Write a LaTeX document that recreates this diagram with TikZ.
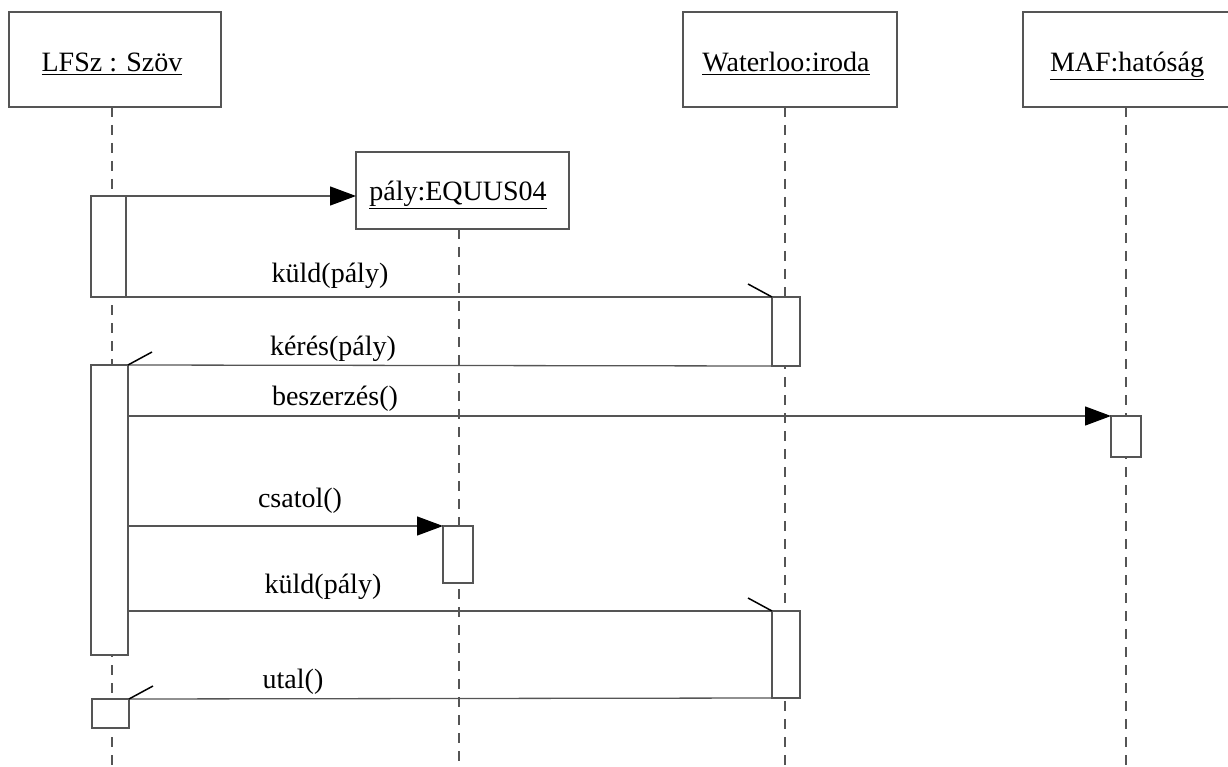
\documentclass[tikz,border=0pt]{standalone}
\usepackage{fontspec}
\setmainfont{Liberation Serif}
\usetikzlibrary{arrows.meta}
\definecolor{linegray}{RGB}{85,85,85}
\begin{document}
\begin{tikzpicture}[x=1pt,y=-1pt,
  box/.style={draw=linegray, fill=white, line width=1.3pt, inner sep=0pt, outer sep=0pt, anchor=north west},
  life/.style={draw=linegray, line width=1.2pt, dash pattern=on 10pt off 8pt},
  msg/.style={draw=linegray, line width=1.3pt},
  call/.style={msg, -{Triangle[length=26pt,width=19pt,color=black]}},
  barb/.style={draw=black, line width=1.5pt},
  lbl/.style={anchor=base, inner sep=0pt, font=\fontsize{28}{32}\selectfont},
]
\useasboundingbox (0,0) rectangle (1228,767);
\clip (0,0) rectangle (1228,767);

% lifelines
\coordinate (l1t) at (112,107); \coordinate (l1b) at (112,767);
\coordinate (l2t) at (459,229); \coordinate (l2b) at (459,767);
\coordinate (l3t) at (785,107); \coordinate (l3b) at (785,767);
\coordinate (l4t) at (1126,107); \coordinate (l4b) at (1126,767);
\draw[life] (l1t) -- (l1b);
\draw[life] (l2t) -- (l2b);
\draw[life] (l3t) -- (l3b);
\draw[life] (l4t) -- (l4b);

% headers
\node[box, minimum width=212, minimum height=95] (lfsz) at (9,12) {};
\node[box, minimum width=214, minimum height=95] (wat) at (683,12) {};
\node[box, minimum width=212, minimum height=95] (maf) at (1023,12) {};
\node[box, minimum width=213, minimum height=77] (equus) at (356,152) {};
\node[lbl] (lfszt) at (112,72) {\underline{LFSz : Szöv}};
\node[lbl] (watt) at (786,72) {\underline{Waterloo:iroda}};
\node[lbl] (maft) at (1127,72) {\underline{MAF:hatóság}};
\node[lbl] (equust) at (458,201) {\underline{pály:EQUUS04}};

% activations
\node[box, minimum width=35, minimum height=101] (a1) at (91,196) {};
\node[box, minimum width=37, minimum height=290] (a2) at (91,365) {};
\node[box, minimum width=37, minimum height=29] (a3) at (92,699) {};
\node[box, minimum width=28, minimum height=69] (w1) at (772,297) {};
\node[box, minimum width=28, minimum height=87] (w2) at (772,611) {};
\node[box, minimum width=30, minimum height=41] (m1) at (1111,416) {};
\node[box, minimum width=30, minimum height=57] (e1) at (443,526) {};

% messages
\draw[call] (a1.north east) -- (a1.north east -| equus.west);
\draw[msg] (a1.south east) -- (w1.north west);
\draw[barb] (w1.north west) -- ++(-24,-13);
\draw[msg] (w1.south west) -- (a2.north east);
\draw[barb] (a2.north east) -- ++(24,-13);
\draw[call] (a2.east |- m1.north west) -- (m1.north west);
\draw[call] (a2.east |- e1.north west) -- (e1.north west);
\draw[msg] (a2.east |- w2.north west) -- (w2.north west);
\draw[barb] (w2.north west) -- ++(-24,-13);
\draw[msg] (w2.south west) -- (a3.north east);
\draw[barb] (a3.north east) -- ++(24,-13);

% labels
\node[lbl] (t1) at (330,283) {küld(pály)};
\node[lbl] (t2) at (333,355) {kérés(pály)};
\node[lbl] (t3) at (335,405) {beszerzés()};
\node[lbl] (t4) at (300,507) {csatol()};
\node[lbl] (t5) at (323,593) {küld(pály)};
\node[lbl] (t6) at (293,688) {utal()};
\end{tikzpicture}
\end{document}
